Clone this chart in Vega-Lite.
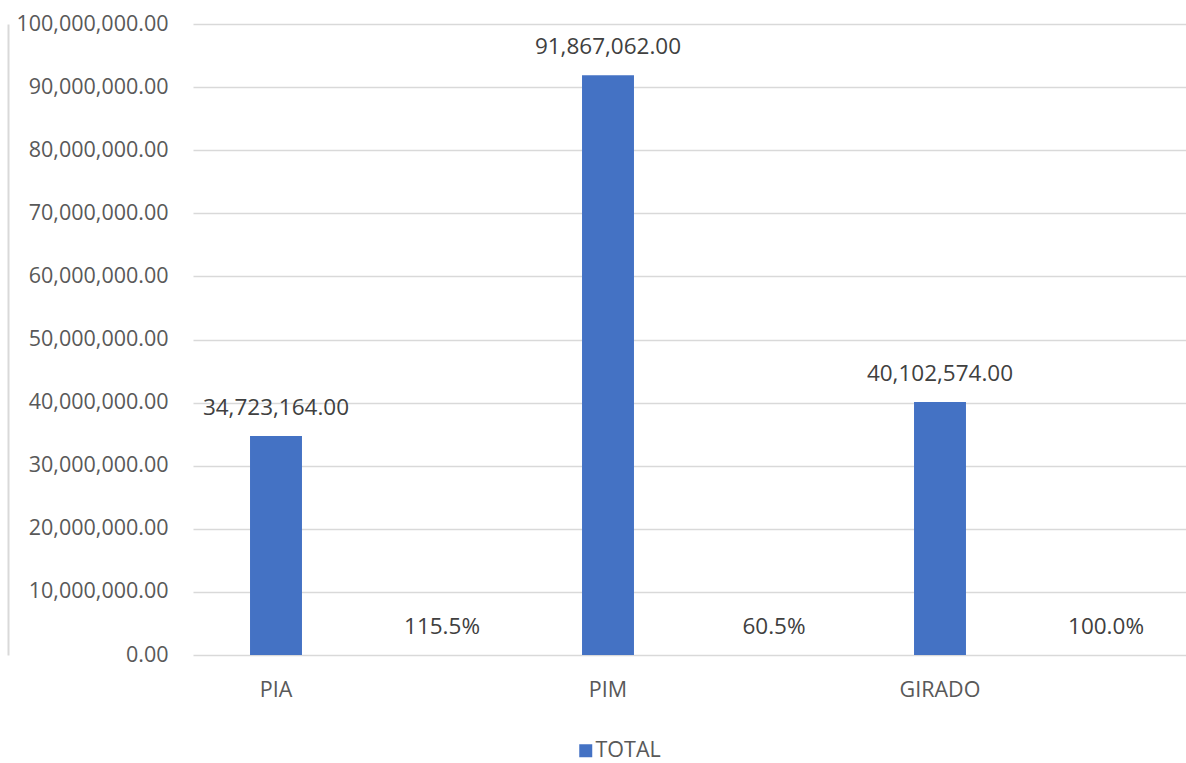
{
  "$schema": "https://vega.github.io/schema/vega-lite/v6.json",
  "autosize": {"type": "none"},
  "padding": {"left": 193, "top": 24, "right": 0, "bottom": 108},
  "width": 996,
  "height": 631,
  "background": "white",
  "config": {
    "view": {"stroke": null},
    "font": "Open Sans",
    "axis": {"labelFont": "Open Sans", "labelColor": "#595959", "labelFontSize": 21.5}
  },
  "data": {
    "values": [
      {"cat": "PIA", "value": 34723164, "label": "34,723,164.00", "series": "TOTAL"},
      {"cat": "PIA_pct", "value": 0, "label": "115.5%", "series": "TOTAL"},
      {"cat": "PIM", "value": 91867062, "label": "91,867,062.00", "series": "TOTAL"},
      {"cat": "PIM_pct", "value": 0, "label": "60.5%", "series": "TOTAL"},
      {"cat": "GIRADO", "value": 40102574, "label": "40,102,574.00", "series": "TOTAL"},
      {"cat": "GIRADO_pct", "value": 0, "label": "100.0%", "series": "TOTAL"}
    ]
  },
  "encoding": {
    "x": {
      "field": "cat",
      "type": "nominal",
      "sort": null,
      "scale": {"paddingInner": 0.687, "paddingOuter": 0.3435},
      "axis": {
        "title": null,
        "ticks": false,
        "domain": false,
        "labelAngle": 0,
        "labelPadding": 24,
        "labelExpr": "indexof(['PIA','PIM','GIRADO'], datum.value) >= 0 ? datum.value : ''"
      }
    },
    "y": {
      "field": "value",
      "type": "quantitative",
      "scale": {"domain": [0, 100000000]},
      "axis": {
        "title": null,
        "orient": "left",
        "ticks": false,
        "domain": false,
        "tickCount": 10,
        "format": ",.2f",
        "labelPadding": 25,
        "gridColor": "#d9d9d9",
        "gridWidth": 1.3
      }
    }
  },
  "layer": [
    {
      "mark": {"type": "bar", "color": "#4472C4"},
      "encoding": {
        "color": {
          "field": "series",
          "type": "nominal",
          "scale": {"range": ["#4472C4"]},
          "legend": {
            "title": null,
            "orient": "none",
            "legendX": 382,
            "legendY": 716,
            "symbolType": "square",
            "symbolSize": 169,
            "symbolStrokeWidth": 0,
            "labelFont": "Open Sans",
            "labelFontSize": 21.5,
            "labelColor": "#595959",
            "labelOffset": -1
          }
        }
      }
    },
    {
      "mark": {"type": "text", "baseline": "middle", "dy": -28, "fontSize": 22.5, "color": "#404040", "font": "Open Sans"},
      "encoding": {
        "text": {"field": "label"},
        "y": {
          "field": "value",
          "type": "quantitative",
          "scale": {"domain": [0, 100000000]},
          "axis": {
            "title": null,
            "orient": "left",
            "ticks": false,
            "labels": false,
            "grid": false,
            "domain": true,
            "domainColor": "#d9d9d9",
            "domainWidth": 2,
            "offset": 185
          }
        }
      }
    }
  ],
  "resolve": {"axis": {"y": "independent"}}
}
